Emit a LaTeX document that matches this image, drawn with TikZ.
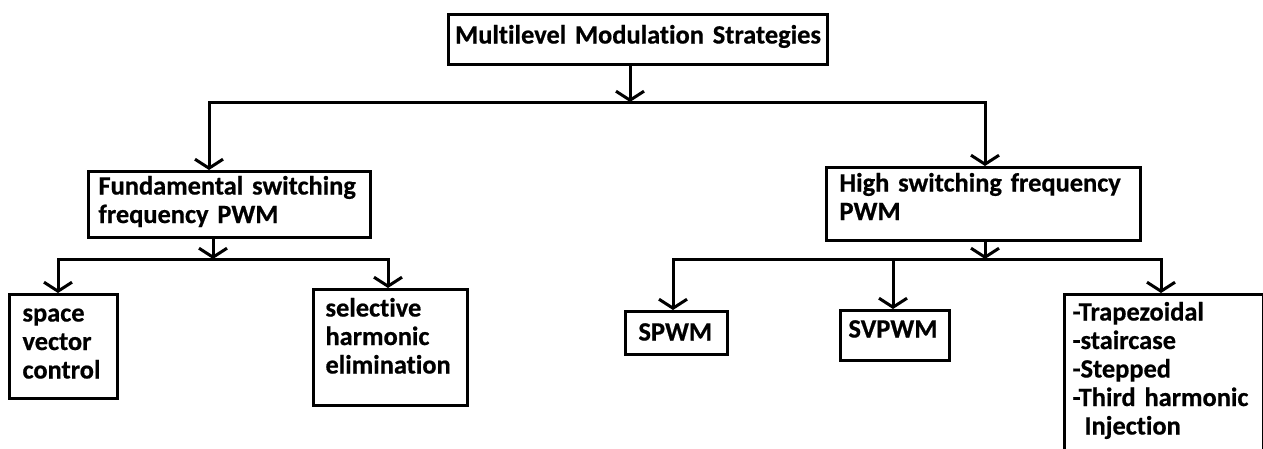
\documentclass[tikz,border=0pt]{standalone}
\usepackage{fontspec}
\setmainfont{Carlito}[Ligatures=NoCommon, WordSpace=0.5, BoldFeatures={FakeBold=0.6}]
\usetikzlibrary{arrows.meta}

\tikzset{
  blk/.style={draw, line width=3pt, anchor=north west, align=left,
    inner ysep=0pt, inner xsep=13pt, font=\bfseries\fontsize{26.4}{28.5}\selectfont},
  feed/.style={line width=3pt, -{Straight Barb[length=9pt, width=28pt]}},
}

\begin{document}
\begin{tikzpicture}[x=1pt, y=-1pt]
  \useasboundingbox (0,0) rectangle (1263,448);
  % root and the two families
  \node [blk, align=center, inner xsep=4pt, text width=371pt, text height=29pt, text depth=21pt] (m) at (447,13) {Multilevel Modulation Strategies};
  \node [blk, inner xsep=10pt, text width=262pt, text height=23pt, text depth=43pt] (f) at (87,170) {Fundamental switching\\frequency PWM};
  \node [blk, text width=288pt, text height=24pt, text depth=49pt] (h) at (825,166) {High switching frequency\\PWM};
  % leaves
  \node [blk, text width=82pt, text height=27pt, text depth=77pt] (f1) at (8,293) {space\\vector\\control};
  \node [blk, inner xsep=12pt, text width=130pt, text height=27pt, text depth=89pt] (f2) at (312,288) {selective\\harmonic\\elimination};
  \node [blk, text width=76pt, text height=29pt, text depth=14pt] (h1) at (624,310) {SPWM};
  \node [blk, inner xsep=8pt, text width=93pt, text height=27pt, text depth=23pt] (h2) at (839,309) {SVPWM};
  \node [blk, inner xsep=8pt, text width=183pt, text height=26pt, text depth=200pt] (h3) at (1063,293) {-Trapezoidal\\-staircase\\-Stepped\\-Third harmonic\\\hspace*{12pt}Injection};

  \coordinate (j0) at (630,102);
  \coordinate (j1) at (213,259);
  \coordinate (j2) at (985,259);
  \coordinate (d1) at (209,102);
  \coordinate (d2) at (985,102);
  \coordinate (d3) at (58,259);
  \coordinate (d4) at (388,259);
  \coordinate (d5) at (673,259);
  \coordinate (d6) at (893,259);
  \coordinate (d7) at (1161,259);

  \draw [feed] (m.south -| j0) -- (j0);
  \draw [feed] (j0) -- (d1) -- (d1 |- f.north);
  \draw [feed] (j0) -- (d2) -- (d2 |- h.north);
  \draw [feed] (f.south -| j1) -- (j1);
  \draw [feed] (j1) -- (d3) -- (d3 |- f1.north);
  \draw [feed] (j1) -- (d4) -- (d4 |- f2.north);
  \draw [feed] (h.south -| j2) -- (j2);
  \draw [feed] (j2) -- (d5) -- (d5 |- h1.north);
  \draw [feed] (d6) -- (d6 |- h2.north);
  \draw [feed] (j2) -- (d7) -- (d7 |- h3.north);
\end{tikzpicture}
\end{document}
